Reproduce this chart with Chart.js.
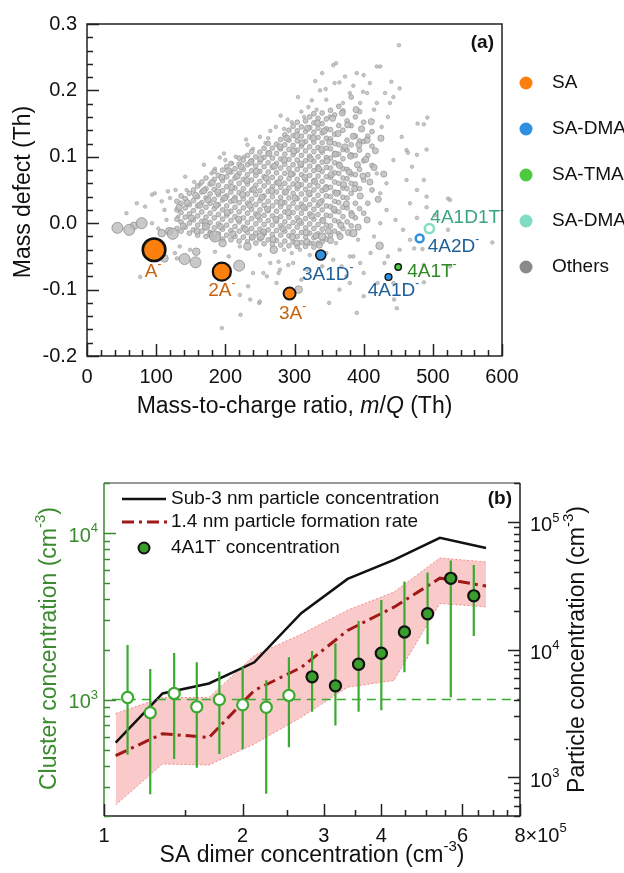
<!DOCTYPE html>
<html>
<head>
<meta charset="utf-8">
<script src="https://cdn.jsdelivr.net/npm/chart.js@4.4.1/dist/chart.umd.min.js"></script>
<style>
html, body { margin: 0; padding: 0; background: #fff; }
#wrap { position: relative; width: 624px; height: 873px; overflow: hidden; }
canvas { position: absolute; left: 0; }
#ca { top: 0; }
#cb { top: 440px; }
</style>
</head>
<body>
<div id="wrap">
  <canvas id="ca" width="624" height="440"></canvas>
  <canvas id="cb" width="624" height="433"></canvas>
</div>
<script>
// ---------- panel (a) data : m/Q (Th), mass defect (Th) ----------
var saMQ = [96.96, 194.93, 292.89];
var saMD = [-0.040, -0.073, -0.106];
var saNames = ['A', '2A', '3A'];

var dmaMQ = [337.95, 435.92];
var dmaMD = [-0.048, -0.081];
var dmaNames = ['3A1D', '4A1D'];

var tmaMQ = [449.93];
var tmaMD = [-0.066];
var tmaNames = ['4A1T'];

var dmaOpenMQ = [480.98];
var dmaOpenMD = [-0.023];
var dmaOpenNames = ['4A2D'];

var dmaTmaMQ = [494.99];
var dmaTmaMD = [-0.008];
var dmaTmaNames = ['4A1D1T'];

var legendNamesA = ['SA', 'SA-DMA', 'SA-TMA', 'SA-DMA-TMA', 'Others'];

// other ions, large / medium markers
var othersBig = [[44,-0.007],[61,-0.010],[79,0.0],[124,-0.016],[185,-0.020],[157,-0.059],[141,-0.054],[220,-0.064]];
var othersMid = [[68,-0.004],[112,-0.053],[119,-0.012],[108,-0.015],[158,-0.043],[251,-0.020],[423,-0.034],[306,-0.100],
  [385,-0.015],[196,-0.030],[232,-0.035],[172,-0.005],[270,-0.040],[340,-0.020]];

// other ions, dense core, one column per m/Q with its mass defects
var othersCoreCols = [
 [130,[-0.008,0.006,0.02,0.033]],
 [136,[-0.012,0.002,0.016,0.03,0.041]],
 [142,[-0.006,0.009,0.023,0.037]],
 [148,[-0.015,0.0,0.014,0.028,0.045]],
 [154,[-0.01,0.005,0.019,0.034,0.05]],
 [160,[-0.018,-0.003,0.011,0.026,0.04,0.056]],
 [166,[-0.012,0.003,0.017,0.031,0.047,0.062]],
 [172,[-0.02,-0.005,0.009,0.024,0.038,0.052,0.068]],
 [178,[-0.014,0.001,0.015,0.03,0.044,0.059]],
 [184,[-0.022,-0.007,0.008,0.022,0.036,0.051,0.066,0.078]],
 [190,[-0.016,-0.001,0.013,0.028,0.043,0.057,0.072]],
 [196,[-0.024,-0.009,0.006,0.02,0.035,0.049,0.064,0.08]],
 [202,[-0.018,-0.003,0.012,0.026,0.041,0.055,0.07,0.085]],
 [208,[-0.025,-0.011,0.004,0.018,0.033,0.047,0.062,0.077,0.09]],
 [214,[-0.02,-0.005,0.01,0.024,0.039,0.053,0.068,0.082]],
 [220,[-0.027,-0.012,0.002,0.017,0.031,0.046,0.06,0.075,0.089,0.098]],
 [226,[-0.021,-0.006,0.008,0.023,0.037,0.052,0.066,0.081,0.095]],
 [232,[-0.028,-0.014,0.001,0.015,0.03,0.044,0.059,0.073,0.088,0.102]],
 [238,[-0.022,-0.008,0.007,0.021,0.036,0.05,0.065,0.079,0.094,0.108]],
 [244,[-0.03,-0.015,-0.001,0.014,0.028,0.043,0.057,0.072,0.086,0.1]],
 [250,[-0.024,-0.009,0.005,0.02,0.034,0.049,0.063,0.078,0.092,0.107]],
 [256,[-0.031,-0.016,-0.002,0.012,0.027,0.041,0.056,0.07,0.085,0.099,0.113]],
 [262,[-0.025,-0.01,0.004,0.019,0.033,0.048,0.062,0.077,0.091,0.106,0.12]],
 [268,[-0.032,-0.017,-0.003,0.011,0.026,0.04,0.055,0.069,0.084,0.098,0.113]],
 [274,[-0.026,-0.011,0.003,0.018,0.032,0.047,0.061,0.076,0.09,0.105,0.119]],
 [280,[-0.033,-0.018,-0.004,0.01,0.025,0.039,0.054,0.068,0.083,0.097,0.112,0.126]],
 [286,[-0.027,-0.012,0.002,0.017,0.031,0.046,0.06,0.075,0.089,0.104,0.118,0.133]],
 [292,[-0.034,-0.019,-0.005,0.009,0.024,0.038,0.053,0.067,0.082,0.096,0.111,0.125,0.14]],
 [298,[-0.028,-0.013,0.001,0.016,0.03,0.045,0.059,0.074,0.088,0.103,0.117,0.132,0.146]],
 [304,[-0.035,-0.02,-0.006,0.008,0.023,0.037,0.052,0.066,0.081,0.095,0.11,0.124,0.139,0.152]],
 [310,[-0.029,-0.014,0.0,0.015,0.029,0.044,0.058,0.073,0.087,0.102,0.116,0.131,0.145]],
 [316,[-0.035,-0.021,-0.007,0.007,0.022,0.036,0.051,0.065,0.08,0.094,0.109,0.123,0.138,0.154]],
 [322,[-0.03,-0.015,-0.001,0.014,0.028,0.043,0.057,0.072,0.086,0.101,0.115,0.13,0.144,0.16]],
 [328,[-0.036,-0.022,-0.008,0.006,0.021,0.035,0.05,0.064,0.079,0.093,0.108,0.122,0.137,0.151,0.165]],
 [334,[-0.03,-0.016,-0.002,0.013,0.027,0.042,0.056,0.071,0.085,0.1,0.114,0.129,0.143,0.158]],
 [340,[-0.028,-0.009,0.005,0.02,0.034,0.049,0.063,0.078,0.092,0.107,0.121,0.136,0.15,0.166]],
 [346,[-0.024,-0.003,0.012,0.026,0.041,0.055,0.07,0.084,0.099,0.113,0.128,0.142,0.157]],
 [352,[-0.018,-0.004,0.011,0.025,0.04,0.054,0.069,0.083,0.098,0.112,0.127,0.141,0.17]],
 [358,[-0.012,0.004,0.018,0.033,0.047,0.062,0.076,0.091,0.105,0.12,0.134,0.163]],
 [364,[-0.016,0.002,0.017,0.031,0.046,0.06,0.075,0.089,0.104,0.118,0.147,0.176]],
 [370,[-0.008,0.01,0.024,0.039,0.053,0.068,0.082,0.097,0.111,0.14,0.169]],
 [376,[0.002,0.023,0.038,0.052,0.067,0.081,0.11,0.125,0.154]],
 [382,[-0.004,0.016,0.045,0.06,0.074,0.103,0.118,0.147,0.19]],
 [388,[0.008,0.03,0.059,0.073,0.102,0.131,0.16]],
 [394,[0.022,0.052,0.081,0.11,0.124,0.168]],
 [400,[0.015,0.065,0.094,0.123,0.152]],
 [406,[0.03,0.073,0.102,0.131]],
 [412,[0.05,0.087,0.116,0.138]]
];

// other ions, irregular medium markers inside the cloud
var othersCore2 = [
 [133,0.024],[139,-0.004],[145,0.031],[151,0.008],[157,0.042],[159,-0.012],[163,0.027],
 [169,0.049],[171,0.001],[175,0.035],[179,-0.017],[181,0.061],[187,0.027],[189,0.047],[193,-0.005],[195,0.069],[199,0.038],
 [203,0.016],[205,0.079],[209,0.054],[211,-0.016],[213,0.035],[217,0.071],[219,0.006],[223,0.085],[225,0.043],[229,-0.009],
 [231,0.064],[235,0.027],[237,0.092],[239,-0.021],[241,0.051],[245,0.078],[247,0.011],[251,0.097],[253,0.039],[255,-0.013],
 [259,0.068],[261,0.021],[263,0.105],[267,0.049],[269,-0.024],[271,0.086],[273,0.006],[277,0.061],[279,0.115],[281,0.031],
 [283,-0.008],[285,0.095],[287,0.047],[289,0.128],[291,0.016],[295,0.074],[297,-0.021],[299,0.108],[301,0.038],[303,0.132],
 [305,0.057],[307,0.003],[309,0.089],[311,0.121],[313,0.024],[315,0.069],[317,-0.014],[319,0.143],[321,0.045],[323,0.097],
 [325,0.011],[327,0.128],[329,0.063],[331,-0.019],[333,0.151],[335,0.082],[337,0.031],[339,0.111],[341,0.004],[343,0.139],
 [345,0.052],[347,0.094],[349,-0.012],[351,0.122],[353,0.073],[355,0.158],[357,0.021],[359,0.104],[361,0.045],[363,0.135],
 [365,0.087],[367,-0.003],[369,0.166],[371,0.058],[373,0.115],[375,0.029],[377,0.148],[379,0.077],[381,0.101],[383,0.012],
 [385,0.131],[387,0.052],[389,0.171],[391,0.088],[393,0.118],[395,0.041],[397,0.142],[399,0.071],[403,0.096],[405,0.125],
 [409,0.062],[411,0.153],[415,0.084],[417,0.109],[421,0.036],[425,0.128],[429,0.074],
 [303,-0.03],[318,-0.028],[336,-0.033],[352,-0.026],[366,-0.02],[378,-0.014],[392,-0.006],[405,0.005]
];

// other ions, sparse small markers
var othersSparse = [
 [57,0.015],[72,0.03],[84,0.025],[98,0.045],[108,0.033],[120,0.038],[94,0.0],[103,-0.008],[132,0.01],[115,0.005],
 [134,-0.035],[149,-0.04],[77,-0.081],[127,-0.045],[144,0.05],[163,0.058],[142,0.07],[117,0.048],[94,0.043],[169,0.088],
 [185,0.082],[200,0.095],[215,0.1],[227,0.1],[240,0.112],[250,0.13],[262,0.128],[273,0.145],[285,0.142],[296,0.152],
 [314,0.16],[320,0.175],[337,0.2],[346,0.186],[332,0.171],[351,0.161],[356,0.238],[358,0.211],[373,0.221],[390,0.226],
 [409,0.211],[380,0.196],[399,0.198],[431,0.196],[419,0.181],[438,0.181],[395,0.181],[370,0.181],[360,0.241],[419,0.236],
 [424,0.236],[451,0.268],[440,0.213],[452,0.203],[443,0.19],[435,0.16],[426,0.145],[462,0.11],[443,0.095],[433,0.06],
 [419,0.075],[424,0.045],[433,0.02],[424,0.0],[462,0.065],[467,0.03],[477,0.008],[491,0.04],[452,-0.04],[467,-0.025],
 [478,0.15],[487,0.149],[492,0.159],[491,0.111],[477,0.103],[487,0.065],[477,0.05],[522,0.037],[491,0.024],[522,-0.01],
 [586,-0.029],[473,-0.038],[485,-0.039],[487,-0.063],[487,-0.089],[525,-0.065],[525,0.035],[464,0.106],[446,0.005],[444,-0.115],
 [195,-0.158],[222,-0.138],[249,-0.12],[233,-0.095],[221,-0.108],[274,-0.09],[260,-0.08],[240,-0.075],[279,-0.07],[298,-0.06],
 [318,-0.07],[356,-0.055],[375,-0.08],[385,-0.05],[400,-0.11],[390,-0.135],[130,-0.053],[221,-0.035],[327,-0.03],[395,-0.06],
 [400,-0.075],[380,-0.09],[448,-0.128],[443,-0.09],[185,-0.043],[205,-0.05],[250,-0.048],[265,-0.06],[255,-0.075],[277,-0.075],
 [236,-0.115],[250,-0.118],[277,-0.058],[291,-0.063],[308,-0.04],[285,-0.04],[340,-0.065],[410,-0.045],[365,-0.1],[310,-0.085],
 [350,-0.12],[415,-0.02],[380,-0.05],[360,-0.03],[392,-0.025],[430,-0.06],[457,-0.01],[470,0.085],[503,0.012],[455,0.13],
 [180,0.075],[210,0.09],[232,0.118],[258,0.121],[290,0.156],[310,0.168],[325,0.185],[345,0.202],[365,0.212],[385,0.207],
 [405,0.196],[415,0.171],[400,0.223],[340,0.226],[330,0.214],[305,0.19],[280,0.162],[265,0.139],[230,0.126],[198,0.105],
 [192,0.099],[155,0.062],[128,0.05],[112,0.02],[346,-0.045],[368,-0.065],[322,-0.048],[296,-0.045],[420,-0.09],[435,-0.05]
];

// ---------- panel (b) data ----------
// SA dimer concentration (x 1e5 cm-3)
var dimerX = [1.125, 1.26, 1.42, 1.59, 1.78, 2.0, 2.25, 2.52, 2.83, 3.18, 3.57, 4.0, 4.49, 5.04, 5.66, 6.35];
var clusterConc = [1030, 835, 1090, 905, 1000, 930, 900, 1060, 1370, 1210, 1630, 1900, 2550, 3280, 5350, 4200];
var clusterLow  = [466, 270, 440, 390, 472, 503, 272, 517, 847, 698, 847, 863, 1459, 2148, 1032, 2413];
var clusterHigh = [2130, 1528, 1907, 1675, 1473, 1578, 1306, 1795, 1962, 2170, 2967, 3966, 5115, 5793, 6852, 6438];
var clusterOpen = [true, true, true, true, true, true, true, true, false, false, false, false, false, false, false, false];

var lineX = [1.06, 1.34, 1.69, 2.12, 2.68, 3.38, 4.26, 5.36, 6.75];
var sub3Conc = [1870, 4530, 5430, 7940, 19200, 35600, 50100, 74500, 62200];
var j14Rate  = [1480, 2200, 2050, 4790, 7240, 14100, 21400, 36100, 31300];
var j14Upper = [3160, 4220, 4220, 8970, 13150, 20300, 28100, 51900, 48300];
var j14Lower = [611, 1274, 1251, 1828, 2951, 5080, 5730, 22900, 21540];
var lodX = [1.04, 8];
var lodLevel = [1000, 1000];

var xTicksB = [1, 2, 3, 4, 6, 8];

// ---------- helpers ----------
var FONT = 'Arial, "Liberation Sans", Helvetica, sans-serif';
Chart.defaults.font.family = FONT;
Chart.defaults.color = '#111';

function zipXY(xs, ys) { return xs.map(function (v, i) { return {x: v, y: ys[i]}; }); }
function pairs(list) { return list.map(function (p) { return {x: p[0], y: p[1]}; }); }
function cols(list) {
  var out = [];
  list.forEach(function (c) { c[1].forEach(function (v) { out.push({x: c[0], y: v}); }); });
  return out;
}

// text with superscripts / italics: parts = [[text, 'n'|'s'|'i'|'b'], ...]
function rich(ctx, parts, x, y, size, align, color, rot) {
  ctx.save();
  ctx.translate(x, y);
  if (rot) ctx.rotate(rot);
  ctx.fillStyle = color;
  ctx.textBaseline = 'middle';
  ctx.textAlign = 'left';
  var fontOf = function (k) {
    return (k === 'i' ? 'italic ' : k === 'b' ? 'bold ' : '') + (k === 's' ? Math.round(size * 0.65) : size) + 'px ' + FONT;
  };
  var w = 0;
  parts.forEach(function (p) { ctx.font = fontOf(p[1]); w += ctx.measureText(p[0]).width; });
  var cx = align === 'center' ? -w / 2 : align === 'right' ? -w : 0;
  parts.forEach(function (p) {
    ctx.font = fontOf(p[1]);
    ctx.fillText(p[0], cx, p[1] === 's' ? -size * 0.38 : 0);
    cx += ctx.measureText(p[0]).width;
  });
  ctx.restore();
}

var GRAY_FILL = 'rgba(188,188,188,0.8)';
var GRAY_EDGE = 'rgba(145,145,145,0.85)';
var C_SA = '#fd800e', C_DMA = '#2f8fe0', C_TMA = '#4cc93f', C_DT = '#80dcc2', C_OTH = '#8a8a8a';

// ---------- panel (a) ----------
var labelStyleA = {
  0: {names: saNames, color: '#c8620c', off: [[-1, 22, 'center'], [0, 19, 'center'], [3, 20, 'center']]},
  1: {names: dmaNames, color: '#1f5f99', off: [[7, 20, 'center'], [5, 14, 'center']]},
  2: {names: tmaNames, color: '#2f8a25', off: [[9, 5, 'left']]},
  3: {names: dmaOpenNames, color: '#1f5f99', off: [[8, 8, 'left']]},
  4: {names: dmaTmaNames, color: '#3aa67f', off: [[1, -11, 'left']]}
};

var frameA = {
  id: 'frameA',
  afterDatasetsDraw: function (chart) {
    var ctx = chart.ctx;
    Object.keys(labelStyleA).forEach(function (k) {
      var st = labelStyleA[k];
      var meta = chart.getDatasetMeta(+k);
      meta.data.forEach(function (pt, j) {
        var o = st.off[j];
        rich(ctx, [[st.names[j], 'n'], ['-', 's']], pt.x + o[0], pt.y + o[1], 19, o[2], st.color);
      });
    });
  },
  afterDraw: function (chart) {
    var ctx = chart.ctx, a = chart.chartArea, x = chart.scales.x, y = chart.scales.y;
    ctx.save();
    ctx.strokeStyle = '#222';
    ctx.lineWidth = 1.5;
    ctx.strokeRect(a.left, a.top, a.right - a.left, a.bottom - a.top);
    ctx.beginPath();
    for (var i = 0; i <= 30; i++) {
      var px = Math.round(x.getPixelForValue(i * 20)) + 0.5;
      var len = i % 5 === 0 ? 12 : 6;
      ctx.moveTo(px, a.bottom); ctx.lineTo(px, a.bottom - len);
    }
    for (var j = -10; j <= 15; j++) {
      var py = Math.round(y.getPixelForValue(j * 0.02)) + 0.5;
      var l2 = j % 5 === 0 ? 12 : 6;
      ctx.moveTo(a.left, py); ctx.lineTo(a.left + l2, py);
    }
    ctx.stroke();
    ctx.restore();

    rich(ctx, [['(a)', 'b']], a.right - 8, a.top + 19, 19, 'right', '#111');
    rich(ctx, [['Mass-to-charge ratio, ', 'n'], ['m', 'i'], ['/', 'n'], ['Q', 'i'], [' (Th)', 'n']],
      (a.left + a.right) / 2, 407, 23, 'center', '#111');
    rich(ctx, [['Mass defect (Th)', 'n']], 24, (a.top + a.bottom) / 2 + 2, 23, 'center', '#111', -Math.PI / 2);

    // legend outside the plot
    var legCols = [C_SA, C_DMA, C_TMA, C_DT, C_OTH];
    legendNamesA.forEach(function (nm, i) {
      var ly = 83 + i * 46;
      ctx.beginPath();
      ctx.fillStyle = legCols[i];
      ctx.arc(a.right + 24, ly, 6.5, 0, Math.PI * 2);
      ctx.fill();
      rich(ctx, [[nm, 'n']], a.right + 50, ly, 19, 'left', '#111');
    });
  }
};

new Chart(document.getElementById('ca'), {
  type: 'scatter',
  data: {
    datasets: [
      {label: 'SA', data: zipXY(saMQ, saMD), order: 0,
       pointRadius: [11.3, 9, 6], pointBorderWidth: [2.6, 2.3, 2], pointBackgroundColor: C_SA, pointBorderColor: '#111'},
      {label: 'SA-DMA', data: zipXY(dmaMQ, dmaMD), order: 0,
       pointRadius: [5, 3.4], pointBorderWidth: [1.6, 1.4], pointBackgroundColor: C_DMA, pointBorderColor: '#111'},
      {label: 'SA-TMA', data: zipXY(tmaMQ, tmaMD), order: 0,
       pointRadius: 3.2, pointBorderWidth: 1.4, pointBackgroundColor: C_TMA, pointBorderColor: '#111'},
      {label: 'SA-DMA open', data: zipXY(dmaOpenMQ, dmaOpenMD), order: 0,
       pointRadius: 3.9, pointBorderWidth: 2.5, pointBackgroundColor: '#fff', pointBorderColor: C_DMA},
      {label: 'SA-DMA-TMA', data: zipXY(dmaTmaMQ, dmaTmaMD), order: 0,
       pointRadius: 4.6, pointBorderWidth: 2.5, pointBackgroundColor: '#fff', pointBorderColor: C_DT},
      {label: 'Others big', data: pairs(othersBig), order: 6,
       pointRadius: 5.5, pointBorderWidth: 1, pointBackgroundColor: GRAY_FILL, pointBorderColor: GRAY_EDGE},
      {label: 'Others mid', data: pairs(othersMid), order: 7,
       pointRadius: 3.8, pointBorderWidth: 0.9, pointBackgroundColor: GRAY_FILL, pointBorderColor: GRAY_EDGE},
      {label: 'Others core2', data: pairs(othersCore2), order: 8,
       pointRadius: 3.1, pointBorderWidth: 0.8, pointBackgroundColor: GRAY_FILL, pointBorderColor: GRAY_EDGE},
      {label: 'Others core', data: cols(othersCoreCols), order: 9,
       pointRadius: 2.4, pointBorderWidth: 0.8, pointBackgroundColor: GRAY_FILL, pointBorderColor: GRAY_EDGE},
      {label: 'Others sparse', data: pairs(othersSparse), order: 10,
       pointRadius: 1.8, pointBorderWidth: 0.6, pointBackgroundColor: GRAY_FILL, pointBorderColor: GRAY_EDGE}
    ]
  },
  options: {
    responsive: false,
    animation: false,
    layout: {padding: {left: 0, right: 122, top: 24, bottom: 0}},
    plugins: {legend: {display: false}, tooltip: {enabled: false}},
    scales: {
      x: {type: 'linear', min: 0, max: 600,
          ticks: {stepSize: 100, font: {size: 20}, padding: 9, color: '#111', maxRotation: 0},
          grid: {display: false, drawTicks: false}, border: {display: false},
          afterFit: function (s) { s.height = 84; }},
      y: {type: 'linear', min: -0.2, max: 0.3,
          ticks: {stepSize: 0.1, font: {size: 20}, padding: 10, color: '#111',
                  callback: function (v) { return v.toFixed(1); }},
          grid: {display: false, drawTicks: false}, border: {display: false},
          afterFit: function (s) { s.width = 87; }}
    }
  },
  plugins: [frameA]
});

// ---------- panel (b) ----------
var GREEN_AX = '#3a8a2e';
var GREEN_BAR = '#3aaa30';

var frameB = {
  id: 'frameB',
  afterDatasetDraw: function (chart, args) {
    if (args.index !== 4) return;
    var ctx = chart.ctx, x = chart.scales.x, y = chart.scales.y;
    ctx.save();
    ctx.strokeStyle = GREEN_BAR;
    ctx.lineWidth = 2.2;
    ctx.beginPath();
    dimerX.forEach(function (v, i) {
      var px = x.getPixelForValue(v);
      ctx.moveTo(px, y.getPixelForValue(clusterLow[i]));
      ctx.lineTo(px, y.getPixelForValue(clusterHigh[i]));
    });
    ctx.stroke();
    ctx.restore();
  },
  afterDraw: function (chart) {
    var ctx = chart.ctx, a = chart.chartArea, x = chart.scales.x, y = chart.scales.y, y2 = chart.scales.y2;
    ctx.save();
    ctx.lineWidth = 1.5;
    // spines
    ctx.strokeStyle = '#777';
    ctx.beginPath(); ctx.moveTo(a.left, a.top); ctx.lineTo(a.right, a.top); ctx.stroke();
    ctx.strokeStyle = '#222';
    ctx.beginPath(); ctx.moveTo(a.left, a.bottom); ctx.lineTo(a.right, a.bottom); ctx.lineTo(a.right, a.top); ctx.stroke();
    ctx.strokeStyle = GREEN_AX;
    ctx.beginPath(); ctx.moveTo(a.left, a.top); ctx.lineTo(a.left, a.bottom); ctx.stroke();

    // left ticks
    ctx.beginPath();
    [100, 1000, 10000].forEach(function (dec) {
      for (var m = 1; m <= 9; m++) {
        var v = dec * m;
        if (v < y.min || v > y.max) continue;
        var py = Math.round(y.getPixelForValue(v)) + 0.5;
        ctx.moveTo(a.left, py); ctx.lineTo(a.left + (m === 1 ? 12 : 6), py);
      }
    });
    ctx.stroke();
    // right ticks
    ctx.strokeStyle = '#222';
    ctx.beginPath();
    [100, 1000, 10000, 100000].forEach(function (dec) {
      for (var m = 1; m <= 9; m++) {
        var v = dec * m;
        if (v < y2.min || v > y2.max) continue;
        var py = Math.round(y2.getPixelForValue(v)) + 0.5;
        ctx.moveTo(a.right, py); ctx.lineTo(a.right - (m === 1 ? 12 : 6), py);
      }
    });
    // bottom ticks
    for (var t = 2; t <= 16; t++) {
      var xv = t / 2;
      var px = Math.round(x.getPixelForValue(xv)) + 0.5;
      var major = xTicksB.indexOf(xv) >= 0;
      ctx.moveTo(px, a.bottom); ctx.lineTo(px, a.bottom - (major ? 12 : 6));
    }
    ctx.stroke();
    ctx.restore();

    // tick labels
    [1000, 10000].forEach(function (v) {
      rich(ctx, [['10', 'n'], [String(Math.round(Math.log10(v))), 's']], a.left - 6, y.getPixelForValue(v) + 3, 20, 'right', GREEN_AX);
    });
    [1000, 10000, 100000].forEach(function (v) {
      rich(ctx, [['10', 'n'], [String(Math.round(Math.log10(v))), 's']], a.right + 10, y2.getPixelForValue(v) + 4, 20, 'left', '#111');
    });
    xTicksB.forEach(function (v) {
      var px = x.getPixelForValue(v);
      if (v === 8) {
        ctx.font = '20px ' + FONT;
        var w8 = ctx.measureText('8').width;
        rich(ctx, [['8', 'n'], ['\u00d710', 'n'], ['5', 's']], px - w8 / 2, 396, 20, 'left', '#111');
      } else {
        rich(ctx, [[String(v), 'n']], px, 396, 20, 'center', '#111');
      }
    });

    // axis titles
    rich(ctx, [['Cluster concentration (cm', 'n'], ['-3', 's'], [')', 'n']], 50, (a.top + a.bottom) / 2 - 1, 23, 'center', GREEN_AX, -Math.PI / 2);
    rich(ctx, [['Particle concentration (cm', 'n'], ['-3', 's'], [')', 'n']], 578, (a.top + a.bottom) / 2, 23, 'center', '#111', -Math.PI / 2);
    rich(ctx, [['SA dimer concentration (cm', 'n'], ['-3', 's'], [')', 'n']], 312, 416, 23, 'center', '#111');
    rich(ctx, [['(b)', 'b']], a.right - 8, a.top + 16, 19, 'right', '#111');

    // legend
    var ds = chart.data.datasets;
    ctx.save();
    ctx.lineWidth = 2.5; ctx.strokeStyle = '#111';
    ctx.beginPath(); ctx.moveTo(122, 59); ctx.lineTo(166, 59); ctx.stroke();
    ctx.lineWidth = 3; ctx.strokeStyle = '#a01818'; ctx.setLineDash([12, 5, 3, 5]);
    ctx.beginPath(); ctx.moveTo(122, 82); ctx.lineTo(168, 82); ctx.stroke();
    ctx.setLineDash([]);
    ctx.beginPath(); ctx.arc(144, 108, 5.5, 0, Math.PI * 2);
    ctx.fillStyle = '#3a9d2c'; ctx.fill(); ctx.lineWidth = 2; ctx.strokeStyle = '#111'; ctx.stroke();
    ctx.restore();
    rich(ctx, [[ds[2].label, 'n']], 171, 59, 19, 'left', '#111');
    rich(ctx, [[ds[3].label, 'n']], 171, 82, 19, 'left', '#111');
    rich(ctx, [['4A1T', 'n'], ['-', 's'], [' concentration', 'n']], 171, 108, 19, 'left', '#111');
  }
};

new Chart(document.getElementById('cb'), {
  type: 'scatter',
  data: {
    datasets: [
      {label: 'upper', data: zipXY(lineX, j14Upper), yAxisID: 'y2', order: 5, showLine: true, pointRadius: 0,
       borderColor: '#f08a8a', borderWidth: 1, borderDash: [2, 2], backgroundColor: 'rgba(250,196,196,0.9)', fill: 1},
      {label: 'lower', data: zipXY(lineX, j14Lower), yAxisID: 'y2', order: 4, showLine: true, pointRadius: 0,
       borderColor: '#f08a8a', borderWidth: 1, borderDash: [2, 2], fill: false},
      {label: 'Sub-3 nm particle concentration', data: zipXY(lineX, sub3Conc), yAxisID: 'y2', order: 3, showLine: true,
       pointRadius: 0, borderColor: '#111', borderWidth: 2.5, fill: false},
      {label: '1.4 nm particle formation rate', data: zipXY(lineX, j14Rate), yAxisID: 'y2', order: 2, showLine: true,
       pointRadius: 0, borderColor: '#a01818', borderWidth: 3, borderDash: [12, 5, 3, 5], fill: false},
      {label: 'LOD', data: zipXY(lodX, lodLevel), yAxisID: 'y', order: 1, showLine: true, pointRadius: 0,
       borderColor: GREEN_BAR, borderWidth: 1.5, borderDash: [9, 6], fill: false},
      {label: '4A1T concentration', data: zipXY(dimerX, clusterConc), yAxisID: 'y', order: 0,
       pointRadius: 5.6, pointBorderWidth: 2.2,
       pointBackgroundColor: function (c) { return clusterOpen[c.dataIndex] ? '#fff' : '#3a9d2c'; },
       pointBorderColor: function (c) { return clusterOpen[c.dataIndex] ? GREEN_BAR : '#111'; }}
    ]
  },
  options: {
    responsive: false,
    animation: false,
    layout: {padding: {left: 0, right: 0, top: 43, bottom: 0}},
    plugins: {legend: {display: false}, tooltip: {enabled: false}},
    scales: {
      x: {type: 'logarithmic', min: 1, max: 8, ticks: {display: false},
          grid: {display: false, drawTicks: false}, border: {display: false},
          afterFit: function (s) { s.height = 57; }},
      y: {type: 'logarithmic', position: 'left', min: 200, max: 20000, ticks: {display: false},
          grid: {display: false, drawTicks: false}, border: {display: false},
          afterFit: function (s) { s.width = 104; }},
      y2: {type: 'logarithmic', position: 'right', min: 500, max: 200000, ticks: {display: false},
           grid: {display: false, drawTicks: false}, border: {display: false},
           afterFit: function (s) { s.width = 104; }}
    }
  },
  plugins: [frameB]
});
</script>
</body>
</html>
